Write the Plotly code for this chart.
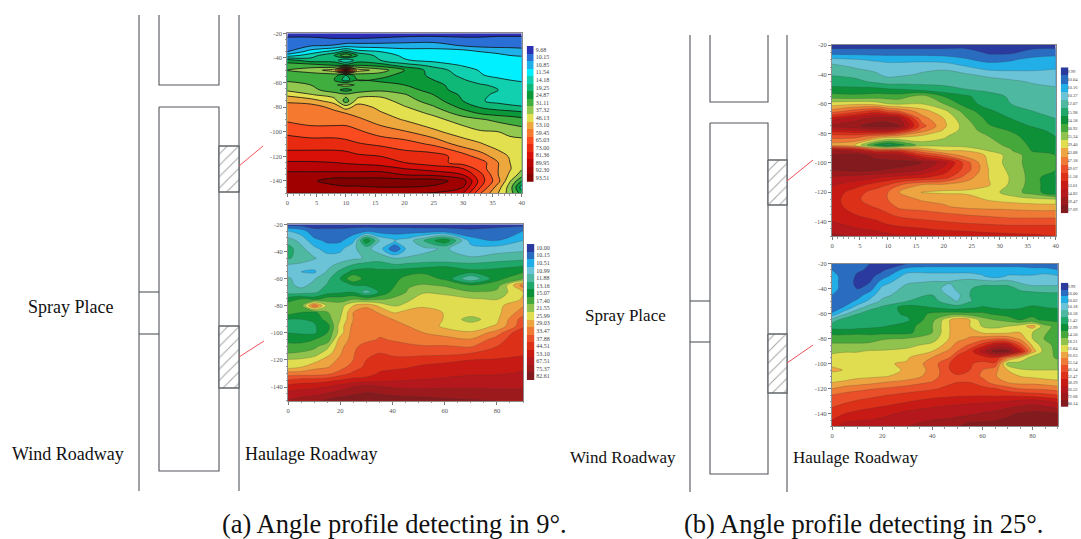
import plotly.graph_objects as go

W, H = 1081, 539

# ---------- legend values (tick labels of the four colour keys) ----------
legend_a = ["9.68","10.15","10.85","11.54","14.18","19.25","24.87","31.11","37.32","46.13","53.10","59.45","65.03","73.00","81.36","89.95","92.30","93.51"]
legend_b = ["10.00","10.15","10.51","10.99","11.88","13.16","15.07","17.40","21.55","25.99","29.03","33.47","37.88","44.51","53.10","67.51","75.37","82.61"]
legend_c = ["9.99","10.04","10.16","10.37","12.07","15.98","24.58","30.92","35.34","39.40","43.88","47.18","49.67","51.58","53.01","54.82","59.47","67.69"]
legend_d = ["9.99","10.00","10.02","10.18","10.58","11.42","12.99","14.50","18.21","22.84","26.63","35.54","46.54","52.47","58.29","66.52","72.68","80.14"]

colors_a = ["#2b2fb5","#2a6fd6","#1fb0ea","#00f0ff","#10d0b0","#10b878","#0a9838","#3fae3f","#93c850","#e3e050",
            "#eca83c","#f57a30","#fa4b20","#e82b10","#d81008","#b80404","#a00000","#800000"]
colors_x = ["#2a3a9e","#2a6cc0","#22aee6","#6bc3d8","#4fb8a0","#1fa86a","#0e9038","#45a83a","#90c24e","#e0de50",
            "#eca540","#ee7a35","#e9502a","#dd3018","#c81a15","#b5181c","#9c1a1c","#821a1e"]

# ---------- panel A (a, top) ----------
a_x = [0,4,8,10,12,16,20,25,30,33,36,38,40]
a_y = [-20,-25,-30,-35,-38,-42,-46,-50,-54,-58,-62,-66,-70,-75,-80,-85,-90,-100,-110,-120,-125,-130,-135,-140,-145,-150]
a_z = [
[0,0,0,0,0,0,0,0,0,0,0,0,0],
[.8,.8,.6,.6,.6,.7,.9,1,.8,.8,1,1,1],
[1,1.4,1.6,2,2,2,2,2,1.4,1.2,1.1,1.1,1],
[1.5,3,4,5,4,3.5,3,3,3,2.5,2.4,2.3,2.2],
[3,4,5.5,7.5,5.5,4,3.3,3,3,2.8,2.6,2.5,2.4],
[6,5,5,3.5,5,4.5,3.6,3.2,3,3,3,3,3],
[7,7,6.5,6,6.5,6,5,4.2,3.4,3,3,3,3],
[7.5,8,9,15.5,9,8,6.5,5,4,3.4,3,3,3],
[7,7,7,5.5,7,7,6,5.3,4.2,3.6,3.1,3,3],
[7.3,7,6.5,5,6.5,6.2,6.2,5.5,4.6,4,3.8,3.5,3.3],
[8,7.5,7.3,8,7.3,7,6.5,5.8,5,4.6,4.3,4,3.9],
[8.3,7.8,7,6,7,7.3,7,6,5,4.8,4.5,4.2,4],
[9.3,8.6,8,7.8,8,8.2,7.6,6.5,5.3,4.8,4.2,4,4],
[10.3,10,9,7,9,9,8,7,5.5,4.6,4.2,4,4],
[11,11,10.2,9,10,9.2,8.6,7.6,6.2,5.4,5,4.8,4.6],
[11,11,10.8,10.5,10.2,9.6,9,8.3,7,6.4,6.1,6,5.8],
[11.3,11,11,11,10.7,10,9.4,8.8,8,7.6,7.2,7,6.8],
[12.3,12,12,12,11.7,11,10.6,9.7,9,8.6,8.5,8.2,8],
[13,13,13,12.8,12.6,12.3,12,11.3,10,9.6,9,9,9],
[14,14,14,14,13.7,13.5,13,13,12,11,10,9.4,8.9],
[14.6,14.6,14.5,14.4,14.3,14,13.5,13,12,12,10.5,9.5,9],
[15,15,15,15,15,15,14.5,14,13.5,12,10.5,9.6,8.6],
[16,16,16,16,16,16,15.5,15.3,14.5,12.8,10.5,9.3,8],
[16,16.3,17,17,17,17,17,17,16,13,10.8,8.6,6.5],
[16,16,16.2,16.4,16.4,16.5,16.5,16.3,15.5,12.5,10,8,5],
[15.5,15.5,15.5,15.5,15.5,15.6,15.6,15.4,14.5,11.5,9.5,8,6],
]

# ---------- panel B (a, bottom) ----------
b_x = [0,5,10,15,20,25,30,35,41,46,52,60,70,80,90]
b_y = [-20,-25,-32,-38,-45,-50,-55,-60,-65,-70,-75,-80,-85,-90,-95,-100,-105,-110,-115,-120,-125,-130,-135,-140,-145,-150]
b_z = [
[0,0,0,0,0,0,0,0,0,0,0,0,0,0,0],
[2.5,2,.8,.8,.8,1,1.2,1,1,1,.9,.9,.7,1,1.5],
[4,3.2,1.8,1.3,1.3,2.2,6.4,3.5,2.5,3,4.5,6.4,2,1.5,2.5],
[5,3.8,2.8,2,2.2,3.4,3.8,3,.5,3,3.3,3.6,3,3,3.2],
[4.6,4.2,3.6,3,3,3.3,3.6,4,3.5,3.6,3.7,3.6,3.6,4,4.2],
[3.4,3.2,3,3.2,3.8,4.6,5,5,4.6,4.8,5,5.2,4.8,5,5.3],
[3.2,2.5,2.3,3.6,4.8,5.8,6,5.8,6,6.2,6.3,6.5,5.8,6,6.4],
[3.6,3.2,3.4,4.2,5.5,7.4,6,6.2,6.3,6.8,7,6.3,3.5,6.2,7.3],
[3.8,3.2,3.8,4.6,5.3,5.5,5.6,6,6.5,7.4,7.6,7.4,6.6,7,11],
[4,4,4.3,5,5.3,5.5,4,5.6,7,7.6,8.4,8,7.6,7.8,9.5],
[6,6.5,6,7,7,7.4,7,7.3,7.7,8.3,9,9.3,8.6,8.4,9.6],
[7,7,11.5,8.3,8,9.5,10.3,9.3,8.4,8.8,9.2,9.4,9.3,9.2,10.4],
[7,6.5,6.2,7.4,8.2,10.5,11,10.4,9.4,10,10.4,9.4,9.2,9.2,11],
[5.5,5.5,5.6,7,8.5,10.5,11,11,10.4,10.3,10.5,9.4,8,9.3,12],
[5.3,5.3,5.4,6,9,10.8,11,11,11,10.5,10.4,9.2,9.1,9.6,12.2],
[5.5,5.4,5.3,6.5,9,11,11,11.3,11,11,10.5,10.2,9.6,11,13.5],
[6,6,6.5,6.8,10,10.8,11.2,11.6,11.4,11.2,10.8,10.8,10.6,12,13.5],
[7,7,7.2,8.2,10.2,11.2,12,12.2,11.8,11.7,11.6,11.6,11.4,12.5,13],
[7.5,7.6,8,9,10.4,11.4,12.3,12.5,12.3,12.2,12.2,12.2,12.5,13,13.2],
[8.6,8.7,9,10,10.7,11.5,12.5,12.7,12.7,12.8,13,13.2,13.5,13.6,14],
[9,9.4,10.2,10.4,11,12,12.7,13.2,13.3,13.4,13.7,13.9,14,14,14.3],
[11,11,11,11.2,12,12.7,13,13.6,13.8,14,14,14.2,14.4,14.4,14.6],
[12.6,13,13,13.2,13.6,13.9,14,14.2,14.4,14.5,14.6,14.7,14.8,14.9,15],
[14,14.2,14.3,14.6,15,15.6,16,15.7,15.4,15.3,15.3,15.4,15.4,15.3,15.4],
[14.8,15,15.2,15.6,16,16.4,16.6,16.5,16.3,16.2,16.1,16,16,16,15.8],
[15.6,16,16.3,16.7,17,17,17,17,17,17,17,16.8,16.6,16.5,16],
]

# ---------- panel C (b, top) ----------
c_x = [0,4,8,10,12,16,20,24,28,32,36,40]
c_y = [-20,-25,-30,-35,-40,-45,-50,-55,-60,-65,-70,-75,-78,-82,-88,-92,-95,-100,-105,-110,-115,-120,-125,-130,-135,-140,-145,-150]
c_z = [
[0,0,0,0,0,0,0,0,0,0,0,0],
[1,1,1,1,1,1,1,1,.3,.3,.9,1],
[2.8,2.6,2.3,2.2,2.2,2.2,2,1.6,1.2,1.4,1.8,2],
[4,3.4,3.2,3,3,3.2,3.3,2.6,2,2,2,2.3],
[4.4,4.2,3.6,3.2,3.3,3.6,3.8,3.6,3.2,3,3,3],
[5,4.8,4.3,4,4.1,4.2,4.3,4.3,4,3.7,3.4,3.3],
[5.8,5.8,5.8,5.6,5.5,5,4.7,4.5,4.3,4,3.8,3.6],
[7,6.8,7,7,7,8,6.5,5.7,4.8,4.4,4.1,3.9],
[9,9.3,9,8.5,8.3,8.5,7.5,6,5,4.5,4.1,3.8],
[11,12,13,12,11.5,10,8.8,7,5.7,5,4.5,4],
[14,15,16,16,15.5,11,9.5,7.6,6.2,5.5,5,4.5],
[16,16.3,17,17,16.5,12,9.7,8,6.6,6,5.4,5],
[14,14.5,15,15,14,11,9.4,8,7,6.4,5.8,5.2],
[12,12,11,10.5,10,9.3,8.6,8,7.5,6.8,6,5.5],
[10,9.5,6,5,6,8,8.2,8,7.8,7.3,6.2,5.8],
[16,15,13,13,13,11,9.6,9.5,8.5,7.6,6.4,6],
[16.6,17,16,15.8,15.5,13,11.5,10,9.4,8,7,6.5],
[17,17,17,17,17,16.5,15,12,9.3,8,7,6.5],
[16.5,16.8,16.6,16.4,16.2,15.5,14,12,9.5,8.2,7,6.5],
[15.3,15,14.6,14.3,14,13.6,13,11,9.5,8.4,7,5.5],
[14.6,14,13,12.5,11.6,10.5,10.3,10,9.6,8.3,7,5.5],
[14.2,13,12,11.5,10.5,9.4,9.3,9.3,9,8,7,5.6],
[14,12.7,12,11.5,11,10.4,10.3,10,9.4,9,8.8,8.6],
[14,13,12.4,12,11.3,11,10.6,10.3,10.2,10.2,10,10],
[14.3,13.5,13,12.6,12.2,12,11.7,11.4,11.2,11,11,11],
[14.5,14,13.6,13.2,13,12.7,12.5,12.3,12.2,12,12,12],
[15,14.6,14.3,14,13.8,13.6,13.3,13.2,13,13,13,13],
[15.8,15.4,15,14.8,14.6,14.6,14.5,14.2,14,13.8,13.7,13.5],
]

# ---------- panel D (b, bottom) ----------
d_x = [0,5,10,15,20,30,40,47,50,55,60,65,70,75,80,85,90]
d_y = [-20,-25,-30,-35,-40,-45,-50,-55,-60,-65,-70,-75,-80,-85,-90,-95,-100,-105,-110,-115,-120,-125,-130,-140,-150]
d_z = [
[1,1,1,.5,0,.5,1,1,1,1,1,1,1,1,.5,.5,.5],
[1.5,1,.6,.4,.3,2,2,2,2,2,2,2,2,2,2,2,1.5],
[2,1,.4,.2,1,3,3,3,3,3,2.6,2,2.6,2.6,2.6,2.8,2.6],
[2,1,.3,.5,2,3.4,3.6,3.6,3.8,4,4,4,4,3.4,3,3,3],
[2,1,.5,1,2.8,3.8,4,3,3.8,4.4,5,5,5,4.3,4,4,4],
[1.5,1,1,2,3.2,4,4.5,3.3,3.2,4.5,5,5,5,5,5,4.8,4.8],
[1,1,1.7,2.8,3.7,4.5,4.8,4,3.5,4.4,5,5.2,5.2,5,5,5.2,5.2],
[1,1.6,3,4,4.7,6,5.5,5,5,5.3,5.6,5.4,5.3,5.4,5.7,5.5,5.4],
[1.6,3.3,4.4,5.3,5,5.7,6.7,7,7,6.8,6.7,6.3,6,6,6.4,6.2,6.1],
[4,5,5.2,5.2,5.3,5.3,7.2,9.5,10.3,9.5,8,7.5,7.2,6.5,6.6,6.4,6.2],
[5,4.8,5,5.2,5.4,6,7.5,9.5,10.4,9.5,8.4,8.2,8.5,9,10,7.8,7.2],
[6.2,6.2,6.3,6.2,6.2,6.2,7.5,9.5,10.3,10,9.4,9.2,9.3,9.5,8.5,7.6,7],
[7,7,7,7,7.4,7.6,8,9.6,10,10.7,11,11.4,11.2,10.3,8.5,7.4,7],
[7.7,7.7,7.7,7.8,8,8.2,8.8,10,11,11.6,13,14.5,14.5,12,9.3,7.8,7.2],
[8.3,8.4,8.4,8.6,8.6,8.8,9.5,10.8,11.5,13,15,17,17,14,10,8,7.2],
[8.8,9,9,9.1,9.2,9.4,10.5,11.5,13,13,13,13.5,11,9.5,8,8,7.3],
[9,9,9.2,9.4,9.4,9.6,11,12.5,13.5,12.6,12.2,12.3,8,8,8,8,8],
[10,9.4,9.2,9.2,9.2,9.6,10.8,12.5,12.8,12.5,11.5,10.8,9.5,8.6,8.5,8.5,8.5],
[8.5,9,9.2,9.3,9.4,9.8,11,12.3,12.4,12.2,11.3,10.6,9.8,9.5,9.3,9.1,9],
[9.5,9.7,10,10.2,10.5,11,11.6,12.4,12.5,12.5,12,11,10.5,10.2,10.2,10,9.8],
[10.5,11,11.2,11.4,11.6,12,12.4,12.7,12.8,12.8,12.8,12.6,12,11.5,11.4,11.3,11],
[11.5,11.8,12,12.2,12.4,12.8,13,13.2,13.3,13.3,13.4,13.3,13.3,13.2,13,12.8,12.5],
[12,12.3,12.6,12.8,13,13.4,14,14.2,14.2,14.3,14.3,14.4,14.5,14.8,15,14.6,14.2],
[13,13.5,13.8,14,14.2,14.8,15,15.1,15.2,15.3,15.6,15.8,16.3,16.6,16.8,16.8,16.6],
[14,15,15,15,15.2,15.5,16,16.2,16.4,17,17,17,17,17,17,17,17],
]

y_ticks = [-20,-40,-60,-80,-100,-120,-140]
y_labels = ["-20","-40","-60","-80","-100","-120","-140"]
x_ticks_short = [0,5,10,15,20,25,30,35,40]
x_ticks_long = [0,20,40,60,80]

panels = [
    dict(x=a_x,y=a_y,z=a_z,leg=legend_a,cols=colors_a,xt=x_ticks_short,xr=40,minor=1,box=(287.3,521.7,33.3,193.3),key=(526.7,533.7,46,181.7),lw=.8,lc="#101010",kf=6,kso=1),
    dict(x=b_x,y=b_y,z=b_z,leg=legend_b,cols=colors_x,xt=x_ticks_long,xr=90,minor=5,box=(288,523,224.3,400.7),key=(526.7,534.3,244,380),lw=.4,lc="rgba(60,60,60,.55)",kf=6,kso=1),
    dict(x=c_x,y=c_y,z=c_z,leg=legend_c,cols=colors_x,xt=x_ticks_short,xr=40,minor=1,box=(832,1055.7,45,236.3),key=(1060.7,1068.3,67.3,213.3),lw=.4,lc="rgba(60,60,60,.55)",kf=4.6,kso=-2),
    dict(x=d_x,y=d_y,z=d_z,leg=legend_d,cols=colors_x,xt=x_ticks_long,xr=90,minor=5,box=(832,1057.7,263.7,426.3),key=(1060.7,1068.3,282.7,407),lw=.4,lc="rgba(60,60,60,.55)",kf=4.6,kso=-2),
]

# ---------- schematic geometry (page pixels) ----------
thin_lines = [
    ([139,139],[15,491]), ([239,239],[15,491]),
    ([159,159,219,219],[15,85,85,15]),
    ([159,219,219,159,159],[107,107,471,471,107]),
    ([139,159],[292,292]), ([139,159],[334,334]),
    ([690,690],[35,492]), ([787,787],[35,492]),
    ([710,710,768,768],[35,102,102,35]),
    ([710,768,768,710,710],[123,123,474,474,123]),
    ([690,710],[301,301]), ([690,710],[342,342]),
]
hatches = [(219,239,146,192),(219,239,326,388),(768,787,160,205),(768,787,334,393)]
red_lines = [
    ([239,263],[166,146]), ([239,264],[357,341]),
    ([787,813],[181,160]), ([787,813],[363,345]),
]
texts = [
    ("Spray Place",28,307,18),("Wind Roadway",12,454,18),("Haulage Roadway",245,454,18),
    ("Spray Place",585,315,17),("Wind Roadway",570,457,17),("Haulage Roadway",793,457,17),
    ("(a) Angle profile detecting in 9°.",222,524,26.5),("(b) Angle profile detecting in 25°.",684,524,26.5),
]

fig = go.Figure()
layout = dict(width=W,height=H,margin=dict(l=0,r=0,t=0,b=0,autoexpand=False),paper_bgcolor="white",plot_bgcolor="rgba(0,0,0,0)",
              showlegend=False,autosize=False)

for i,p in enumerate(panels,1):
    name = "" if i==1 else str(i)
    xa,ya = "x"+name,"y"+name
    x0,x1,y0,y1 = p["box"]
    cols = p["cols"]
    n = len(cols)
    scale=[]
    for k,c in enumerate(cols):
        scale += [[k/n,c],[(k+1)/n,c]]
    fig.add_trace(go.Contour(
        x=p["x"],y=p["y"],z=p["z"],xaxis=xa,yaxis=ya,zmin=-.5,zmax=17.5,autocontour=False,showscale=False,
        contours=dict(start=.5,end=16.5,size=1,coloring="fill",showlines=True),
        line=dict(width=p["lw"],color=p["lc"],smoothing=1.0),colorscale=scale,hoverinfo="skip",
    ))
    common=dict(showgrid=False,zeroline=False,showline=True,linecolor="#8a8a8a",linewidth=1,mirror=True,
                ticks="outside",ticklen=3,tickcolor="#777777",tickwidth=.7,
                tickfont=dict(family="Liberation Serif",size=6.5,color="#555555"))
    layout["xaxis"+name]=dict(domain=[x0/W,x1/W],range=[0,p["xr"]],anchor=ya,tickmode="array",tickvals=p["xt"],
                              minor=dict(dtick=p["minor"],ticks="outside",ticklen=1.5,tickcolor="#999999",tickwidth=.5),**common)
    layout["yaxis"+name]=dict(domain=[1-y1/H,1-y0/H],range=[-150,-20],anchor=xa,tickmode="array",tickvals=y_ticks,ticktext=y_labels,
                              minor=dict(dtick=5,ticks="outside",ticklen=1.5,tickcolor="#999999",tickwidth=.5),**common)
    # colour key: one column of 18 cells with the band values as tick labels
    kn = str(i+5)
    k0,k1,ky0,ky1 = p["key"]
    fig.add_trace(go.Heatmap(z=[[k] for k in range(n)],y=list(range(n)),x=[0],xaxis="x"+kn,yaxis="y"+kn,zmin=-.5,zmax=17.5,
                             colorscale=scale,showscale=False,hoverinfo="skip"))
    layout["xaxis"+kn]=dict(domain=[k0/W,k1/W],visible=False,anchor="y"+kn,fixedrange=True)
    layout["yaxis"+kn]=dict(domain=[1-ky1/H,1-ky0/H],range=[n-.5,-.5],anchor="x"+kn,side="right",fixedrange=True,showgrid=False,zeroline=False,
                            tickmode="array",tickvals=list(range(n)),ticktext=p["leg"],ticks="",showline=False,ticklabelstandoff=p["kso"],
                            tickfont=dict(family="Liberation Serif",size=p["kf"],color="#444444"))

# full-page overlay axes for the schematic
layout["xaxis5"]=dict(domain=[0,1],range=[0,W],visible=False,anchor="y5",fixedrange=True)
layout["yaxis5"]=dict(domain=[0,1],range=[H,0],visible=False,anchor="x5",fixedrange=True)

for lx,ly in thin_lines:
    fig.add_trace(go.Scatter(x=lx,y=ly,xaxis="x5",yaxis="y5",mode="lines",line=dict(color="#50555a",width=1.1),hoverinfo="skip"))
for x0,x1,y0,y1 in hatches:
    fig.add_trace(go.Scatter(x=[x0,x1,x1,x0,x0],y=[y0,y0,y1,y1,y0],xaxis="x5",yaxis="y5",mode="lines",fill="toself",
                             fillcolor="rgba(0,0,0,0)",fillpattern=dict(shape="/",size=8,solidity=.12,fgcolor="#444444",bgcolor="white"),
                             line=dict(color="#60656a",width=1.3),hoverinfo="skip"))
for lx,ly in red_lines:
    fig.add_trace(go.Scatter(x=lx,y=ly,xaxis="x5",yaxis="y5",mode="lines",line=dict(color="#f0505a",width=1),hoverinfo="skip"))

layout["annotations"]=[dict(text=t,x=x/W,y=1-y/H,xref="paper",yref="paper",xanchor="left",yanchor="middle",showarrow=False,
                            borderpad=0,borderwidth=0,
                            font=dict(family="Liberation Serif",size=s,color="#111111")) for t,x,y,s in texts]
fig.update_layout(**layout)
fig.write_html("out.html",config=dict(displayModeBar=False),post_script="document.body.style.margin='0';document.body.style.overflow='hidden';")
